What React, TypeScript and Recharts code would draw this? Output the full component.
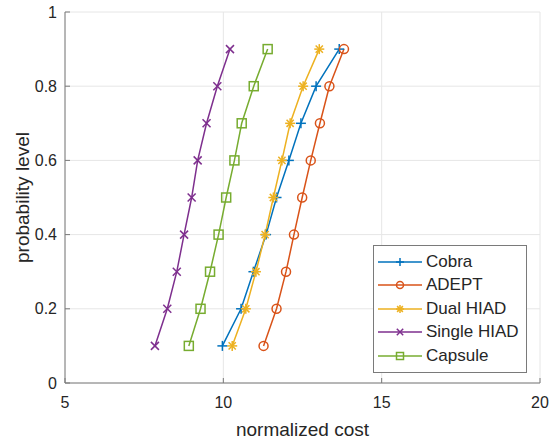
import React from "react";
import { CartesianGrid, Legend, Line, LineChart, XAxis, YAxis } from "recharts";

// MATLAB default line order colours
const BLUE = "#0072BD";
const ORANGE = "#D95319";
const YELLOW = "#EDB120";
const PURPLE = "#7E2F8E";
const GREEN = "#77AC30";
const TEXT = "#262626";
const AXIS = "#7a7a7a";
const GRID = "#e6e6e6";

const PROB = [0.1, 0.2, 0.3, 0.4, 0.5, 0.6, 0.7, 0.8, 0.9];
const COBRA = [9.97, 10.56, 10.95, 11.35, 11.68, 12.07, 12.45, 12.93, 13.66];
const ADEPT = [11.27, 11.68, 11.98, 12.23, 12.49, 12.76, 13.05, 13.35, 13.81];
const DUAL_HIAD = [10.28, 10.71, 11.03, 11.32, 11.58, 11.85, 12.11, 12.52, 13.03];
const SINGLE_HIAD = [7.84, 8.23, 8.53, 8.76, 9.0, 9.19, 9.47, 9.81, 10.21];
const CAPSULE = [8.91, 9.28, 9.58, 9.85, 10.09, 10.35, 10.58, 10.96, 11.4];

const X_TICKS = [5, 10, 15, 20];
const Y_TICKS = [0, 0.2, 0.4, 0.6, 0.8, 1];

type Shape = "plus" | "circle" | "star" | "cross" | "square";

const SERIES: { name: string; color: string; shape: Shape; costs: number[] }[] = [
  { name: "Cobra", color: BLUE, shape: "plus", costs: COBRA },
  { name: "ADEPT", color: ORANGE, shape: "circle", costs: ADEPT },
  { name: "Dual HIAD", color: YELLOW, shape: "star", costs: DUAL_HIAD },
  { name: "Single HIAD", color: PURPLE, shape: "cross", costs: SINGLE_HIAD },
  { name: "Capsule", color: GREEN, shape: "square", costs: CAPSULE },
];

function Marker({ shape, cx, cy, color, s = 5 }: { shape: Shape; cx: number; cy: number; color: string; s?: number }) {
  const sw = 1.5;
  switch (shape) {
    case "plus":
      return (
        <g stroke={color} strokeWidth={sw}>
          <line x1={cx - s} y1={cy} x2={cx + s} y2={cy} />
          <line x1={cx} y1={cy - s} x2={cx} y2={cy + s} />
        </g>
      );
    case "circle":
      return <circle cx={cx} cy={cy} r={s - 0.5} fill="none" stroke={color} strokeWidth={sw} />;
    case "star": {
      const d = s * 0.72;
      return (
        <g stroke={color} strokeWidth={sw}>
          <line x1={cx - s} y1={cy} x2={cx + s} y2={cy} />
          <line x1={cx} y1={cy - s} x2={cx} y2={cy + s} />
          <line x1={cx - d} y1={cy - d} x2={cx + d} y2={cy + d} />
          <line x1={cx - d} y1={cy + d} x2={cx + d} y2={cy - d} />
        </g>
      );
    }
    case "cross": {
      const d = s * 0.8;
      return (
        <g stroke={color} strokeWidth={sw}>
          <line x1={cx - d} y1={cy - d} x2={cx + d} y2={cy + d} />
          <line x1={cx - d} y1={cy + d} x2={cx + d} y2={cy - d} />
        </g>
      );
    }
    default:
      return <rect x={cx - s + 0.5} y={cy - s + 0.5} width={2 * s - 1} height={2 * s - 1} fill="none" stroke={color} strokeWidth={sw} />;
  }
}

function LegendBox() {
  return (
    <div
      style={{
        border: `1px solid ${AXIS}`,
        background: "#fff",
        padding: "4px 6px 4px 3px",
        width: 143,
        boxSizing: "content-box",
      }}
    >
      {SERIES.map((s) => (
        <div key={s.name} style={{ display: "flex", alignItems: "center", height: 23.5 }}>
          <svg width={46} height={14} style={{ flexShrink: 0 }}>
            <line x1={1} y1={7} x2={45} y2={7} stroke={s.color} strokeWidth={1.5} />
            <Marker shape={s.shape} cx={23} cy={7} color={s.color} s={4} />
          </svg>
          <span style={{ marginLeft: 3, fontSize: 17, color: TEXT, whiteSpace: "nowrap" }}>{s.name}</span>
        </div>
      ))}
    </div>
  );
}

export default function App() {
  return (
    <div style={{ position: "absolute", left: 0, top: 0, background: "#fff", fontFamily: "'Liberation Sans', Arial, sans-serif" }}>
      <LineChart width={552} height={441} margin={{ top: 12, right: 12, bottom: 0, left: 0 }}>
        <CartesianGrid stroke={GRID} />
        <XAxis
          type="number"
          dataKey="cost"
          domain={[5, 20]}
          ticks={X_TICKS}
          allowDataOverflow
          height={58}
          stroke={AXIS}
          tickSize={-5}
          tickMargin={19}
          tick={{ fill: TEXT, fontSize: 16 }}
          label={{ value: "normalized cost", position: "center", dy: 17, fill: TEXT, fontSize: 19 }}
        />
        <XAxis xAxisId="top" orientation="top" type="number" domain={[5, 20]} ticks={X_TICKS} height={0} stroke={AXIS} tickSize={-5} tick={false} />
        <YAxis
          type="number"
          domain={[0, 1]}
          ticks={Y_TICKS}
          width={65}
          stroke={AXIS}
          tickSize={-5}
          tickMargin={13}
          tick={{ fill: TEXT, fontSize: 16 }}
          label={{ value: "probability level", angle: -90, position: "center", dx: -10, fill: TEXT, fontSize: 19 }}
        />
        <YAxis yAxisId="right" orientation="right" type="number" domain={[0, 1]} ticks={Y_TICKS} width={0} stroke={AXIS} tickSize={-5} tick={false} />
        <Legend
          layout="vertical"
          align="center"
          verticalAlign="middle"
          wrapperStyle={{ left: 373, top: 245, width: "auto", height: "auto" }}
          content={() => <LegendBox />}
        />
        {SERIES.map((s) => (
          <Line
            key={s.name}
            name={s.name}
            data={s.costs.map((c, i) => ({ cost: c, p: PROB[i] }))}
            dataKey="p"
            stroke={s.color}
            strokeWidth={1.5}
            isAnimationActive={false}
            dot={(props: any) => <Marker key={`${s.name}-${props.index}`} shape={s.shape} cx={props.cx} cy={props.cy} color={s.color} />}
            activeDot={false}
          />
        ))}
      </LineChart>
    </div>
  );
}
